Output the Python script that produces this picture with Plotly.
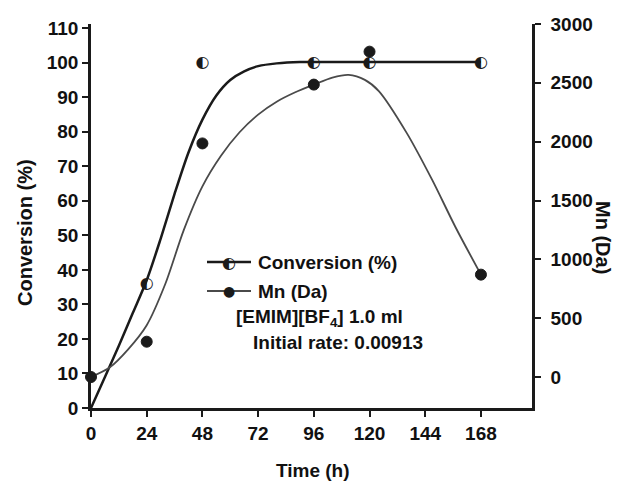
import plotly.graph_objects as go

# Measured data points
time_conv = [24, 48, 96, 120, 168]
conversion = [36, 100, 100, 100, 100]
time_mn = [0, 24, 48, 96, 120, 168]
mn = [0, 300, 1985, 2485, 2765, 870]

# Fitted curves
fit_time_conv = [0, 6, 12, 18, 24, 30, 36, 42, 48, 54, 60, 66, 72, 80, 90, 96, 120, 168]
fit_conv = [0, 9, 18, 27.5, 37, 49, 62, 74, 83.5, 90.5, 95, 97.5, 99, 99.8, 100.2, 100.2, 100.2, 100.2]
fit_time_mn = [0, 8, 16, 24, 32, 40, 48, 56, 64, 72, 80, 88, 96, 104, 111, 118, 124, 136, 147, 157, 168]
fit_mn = [0, 80, 235, 440, 790, 1250, 1620, 1880, 2080, 2230, 2340, 2420, 2485, 2545, 2568, 2525, 2430, 2075, 1675, 1275, 870]

x_ticks = [0, 24, 48, 72, 96, 120, 144, 168]
y_ticks = list(range(0, 111, 10))
y2_ticks = [0, 500, 1000, 1500, 2000, 2500, 3000]

dark = "#1a1a1a"
gray = "#4a4a4a"
FONT = "Liberation Sans, Arial, sans-serif"
FS = 19

fig = go.Figure()
fig.add_trace(go.Scatter(x=fit_time_conv, y=fit_conv, mode="lines",
                         line=dict(color=dark, width=2.5, shape="spline", smoothing=0.8),
                         showlegend=False, hoverinfo="skip"))
fig.add_trace(go.Scatter(x=fit_time_mn, y=fit_mn, mode="lines", yaxis="y2",
                         line=dict(color=gray, width=1.8, shape="spline", smoothing=0.8),
                         showlegend=False, hoverinfo="skip"))
fig.add_trace(go.Scatter(x=time_mn, y=mn, mode="markers", yaxis="y2",
                         marker=dict(symbol="circle", size=11, color=dark, line=dict(color=dark, width=1)),
                         showlegend=False, cliponaxis=False))
fig.add_trace(go.Scatter(x=time_conv, y=conversion, mode="text", text=["◐"] * len(time_conv),
                         textposition="middle center",
                         textfont=dict(family="DejaVu Sans", size=16, color=dark),
                         showlegend=False, cliponaxis=False))

axis_common = dict(showgrid=False, zeroline=False, showline=True, linecolor=dark, linewidth=2.5,
                   ticks="outside", ticklen=6, tickwidth=2, tickcolor=dark,
                   tickfont=dict(family=FONT, size=FS, color="#111", weight="bold"))


def px(xp):
    return (xp - 91) / 441


def py(yp):
    return (408 - yp) / 384


tfont = dict(family=FONT, size=FS, color="#111", weight="bold")
annotations = [
    dict(text="Conversion (%)", xref="paper", yref="paper", x=px(25), y=py(233), textangle=-90,
         xanchor="center", yanchor="middle", showarrow=False,
         font=dict(family=FONT, size=20, color="#111", weight="bold")),
    dict(text="Mn (Da)", xref="paper", yref="paper", x=px(603), y=py(237), textangle=90,
         xanchor="center", yanchor="middle", showarrow=False,
         font=dict(family=FONT, size=20, color="#111", weight="bold")),
    dict(text="Time (h)", xref="paper", yref="paper", x=px(313), y=py(470),
         xanchor="center", yanchor="middle", showarrow=False, font=tfont),
    # legend
    dict(text="Conversion (%)", xref="paper", yref="paper", x=px(256), y=py(262),
         xanchor="left", yanchor="middle", showarrow=False, font=tfont),
    dict(text="Mn (Da)", xref="paper", yref="paper", x=px(256), y=py(291),
         xanchor="left", yanchor="middle", showarrow=False, font=tfont),
    dict(text="◐", xref="paper", yref="paper", x=px(229), y=py(262),
         xanchor="center", yanchor="middle", showarrow=False,
         font=dict(family="DejaVu Sans", size=16, color=dark)),
    dict(text="●", xref="paper", yref="paper", x=px(229), y=py(291),
         xanchor="center", yanchor="middle", showarrow=False,
         font=dict(family="DejaVu Sans", size=14, color=dark)),
    dict(text="[EMIM][BF<sub>4</sub>] 1.0 ml", xref="paper", yref="paper", x=px(234),
         y=py(318), xanchor="left", yanchor="middle", showarrow=False, font=tfont),
    dict(text="Initial rate: 0.00913", xref="paper", yref="paper", x=px(251),
         y=py(342), xanchor="left", yanchor="middle", showarrow=False, font=tfont),
]
shapes = [
    dict(type="line", xref="paper", yref="paper", x0=px(207), x1=px(251), y0=py(262), y1=py(262),
         line=dict(color=dark, width=2.5)),
    dict(type="line", xref="paper", yref="paper", x0=px(207), x1=px(251), y0=py(291), y1=py(291),
         line=dict(color=gray, width=1.8)),
]

fig.update_layout(
    width=617, height=483,
    margin=dict(l=91, r=85, t=24, b=75),
    paper_bgcolor="white", plot_bgcolor="white",
    font=dict(family=FONT, size=FS, color="#111", weight="bold"),
    showlegend=False,
    xaxis=dict(range=[0, 190], tickvals=x_ticks, **axis_common),
    yaxis=dict(range=[0, 111.2], tickvals=y_ticks, **axis_common),
    yaxis2=dict(range=[-263.5, 3000], tickvals=y2_ticks, overlaying="y", side="right",
                ticklabelstandoff=6, **axis_common),
    annotations=annotations,
    shapes=shapes,
)

fig.write_html("out.html", config={"displayModeBar": False},
               post_script="document.body.style.margin='0';")
